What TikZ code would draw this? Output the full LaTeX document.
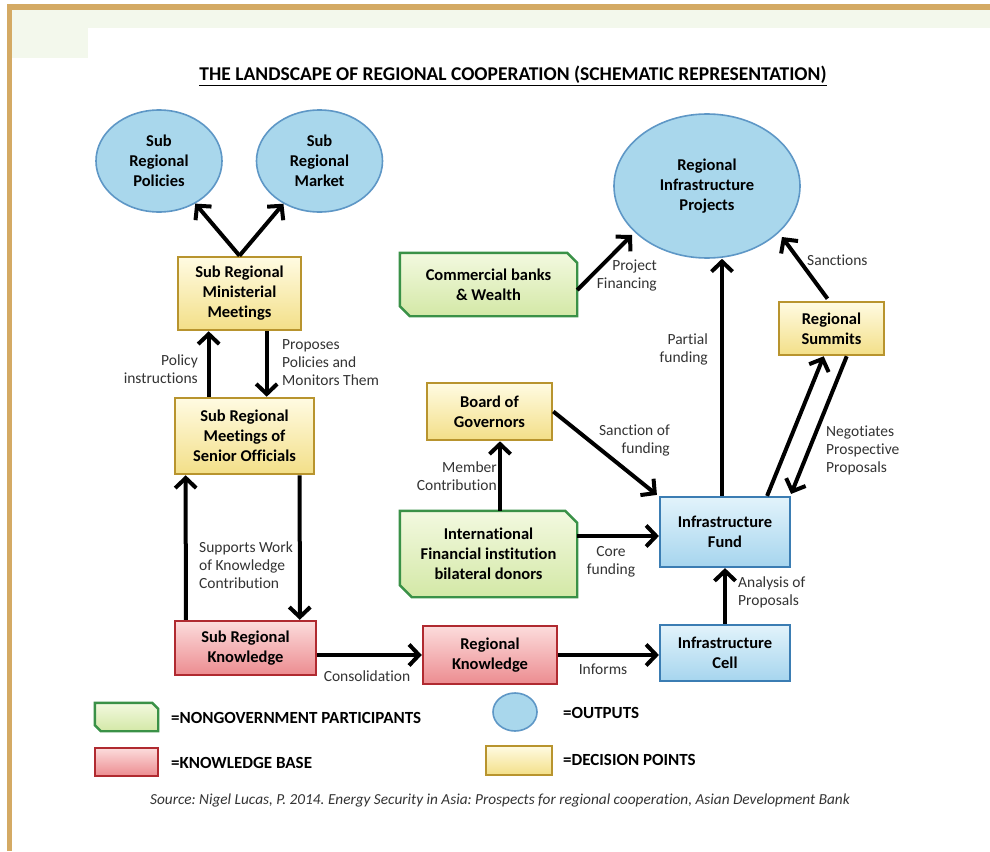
\documentclass[tikz,border=0pt]{standalone}
\usepackage{fontspec}
\setmainfont{Carlito}[Ligatures=NoCommon]
\usetikzlibrary{arrows.meta,calc,shapes.geometric}
\frenchspacing
\definecolor{frameTan}{HTML}{D4AA64}
\definecolor{tint}{HTML}{F3F8EC}
\definecolor{yBorder}{HTML}{B8942E}
\definecolor{yTop}{HTML}{FFFBE2}
\definecolor{yBot}{HTML}{F3DF88}
\definecolor{gBorder}{HTML}{3A9147}
\definecolor{gTop}{HTML}{F3F9E0}
\definecolor{gBot}{HTML}{D3E8A6}
\definecolor{bBorder}{HTML}{3B7DB3}
\definecolor{bTop}{HTML}{E2F3FB}
\definecolor{bBot}{HTML}{A6D5EE}
\definecolor{rBorder}{HTML}{B02A30}
\definecolor{rTop}{HTML}{FCDCDC}
\definecolor{rBot}{HTML}{EC8C90}
\definecolor{eFill}{HTML}{A9D7EC}
\definecolor{eBorder}{HTML}{5E97C6}
\definecolor{lblgray}{HTML}{333333}
\tikzset{
  boxtext/.style={font=\fontsize{16.5}{20}\selectfont\bfseries, align=center, inner sep=0pt, text=black},
  ybox/.style={boxtext, rectangle, draw=yBorder, line width=2.6pt, top color=yTop, bottom color=yBot},
  bbox/.style={boxtext, rectangle, draw=bBorder, line width=2.2pt, top color=bTop, bottom color=bBot},
  rbox/.style={boxtext, rectangle, draw=rBorder, line width=2.4pt, top color=rTop, bottom color=rBot},
  gbox/.style={boxtext, rectangle},
  gpath/.style={draw=gBorder, line width=2.4pt, top color=gTop, bottom color=gBot, line join=miter},
  outp/.style={boxtext, ellipse, draw=eBorder, line width=1.6pt, fill=eFill},
  arr/.style={line width=4pt, -{Straight Barb[length=10pt,width=21pt]}},
  lbl/.style={font=\fontsize{15.5}{18}\selectfont, text=lblgray, inner sep=0pt},
  legtext/.style={font=\fontsize{17}{20}\selectfont\bfseries, text=black, inner sep=0pt, anchor=west}
}
\begin{document}
\begin{tikzpicture}[x=1pt,y=-1pt]
\useasboundingbox (0,0) rectangle (990,851);
% frame
\fill[white] (0,0) rectangle (990,851);
\fill[tint] (12,10) rectangle (990,28);
\fill[tint] (12,28) rectangle (88,58);
\fill[frameTan] (7,4) rectangle (990,10);
\fill[frameTan] (7,4) rectangle (12,851);

% title
\node[font=\fontsize{19.5}{22}\selectfont\bfseries, inner sep=0pt] (title) at (513,76) {\underline{THE LANDSCAPE OF REGIONAL COOPERATION (SCHEMATIC REPRESENTATION)}};

% outputs
\node[outp, minimum width=126, minimum height=102] (pol) at (159,161) {Sub\\Regional\\Policies};
\node[outp, minimum width=126, minimum height=102] (mkt) at (319.5,161) {Sub\\Regional\\Market};
\node[outp, minimum width=186, minimum height=144] (rip) at (707,186) {Regional\\Infrastructure\\Projects};

% decision points
\node[ybox, minimum width=123, minimum height=73] (srmm) at (239.5,293.5) {Sub Regional\\Ministerial\\Meetings};
\node[ybox, minimum width=139, minimum height=76] (srso) at (244.5,436) {Sub Regional\\Meetings of\\Senior Officials};
\node[ybox, minimum width=105, minimum height=53] (rs) at (831.5,328.5) {Regional\\Summits};
\node[ybox, minimum width=125, minimum height=57] (bog) at (489.5,411.5) {Board of\\Governors};

% nongovernment participants
\node[gbox, minimum width=177, minimum height=63] (cbw) at (488.5,284.5) {};
\path[gpath] (cbw.north west) -- ($(cbw.north east)+(-10,0)$) -- ($(cbw.north east)+(0,10)$) -- (cbw.south east) -- ($(cbw.south west)+(10,0)$) -- ($(cbw.south west)+(0,-10)$) -- cycle;
\node[boxtext] (cbwt) at (cbw.center) {Commercial banks\\\& Wealth};
\node[gbox, minimum width=177, minimum height=86] (ifi) at (488.5,554) {};
\path[gpath] (ifi.north west) -- ($(ifi.north east)+(-12,0)$) -- ($(ifi.north east)+(0,12)$) -- (ifi.south east) -- ($(ifi.south west)+(12,0)$) -- ($(ifi.south west)+(0,-12)$) -- cycle;
\node[boxtext] (ifit) at (ifi.center) {International\\Financial institution\\bilateral donors};

% infrastructure
\node[bbox, minimum width=130, minimum height=70] (fund) at (725,532) {Infrastructure\\Fund};
\node[bbox, minimum width=130, minimum height=56] (cell) at (725,653) {Infrastructure\\Cell};

% knowledge
\node[rbox, minimum width=141, minimum height=54] (srk) at (245.5,648) {Sub Regional\\Knowledge};
\node[rbox, minimum width=134, minimum height=58] (rk) at (490,655) {Regional\\Knowledge};

% connectors
\draw[arr] (srmm.north) -- (pol);
\draw[arr] (srmm.north) -- (mkt);
\draw[arr] ($(srso.north west)+(35,0)$) -- ($(srmm.south west)+(32,0)$);
\draw[arr] ($(srmm.south west)+(90,0)$) -- ($(srso.north west)+(93,0)$);
\draw[arr] ($(srk.north west)+(12,0)$) -- ($(srso.south west)+(12,0)$);
\draw[arr] ($(srso.south west)+(126,0)$) -- ($(srk.north west)+(126,0)$);
\draw[arr] (srk.east |- rk.west) -- (rk.west);
\draw[arr] (rk.east) -- (rk.east -| cell.west);
\draw[arr] (cell.north) -- (fund.south);
\draw[arr] ($(fund.north)+(-3,0)$) coordinate (f9) -- (f9 |- rip.south);
\draw[arr] ($(fund.north east)+(-24,0)$) -- ($(rs.south west)+(46,0)$);
\draw[arr] ($(rs.south west)+(69,0)$) -- ($(fund.north east)+(0,-2)$);
\draw[arr] ($(rs.north)+(-4,-2)$) -- ($(rip.center)+(75,51)$);
\draw[arr] ($(cbw.east)+(0,5.5)$) -- ($(rip.center)+(-75,49)$);
\draw[arr] (bog.east) -- ($(fund.north west)+(-2,-1)$);
\draw[arr] ($(ifi.north)+(11.5,0)$) -- ($(bog.south)+(10.5,0)$);
\draw[arr] ($(ifi.east)+(0,-18)$) coordinate (a15) -- (a15 -| fund.west);

% connector labels
\node[lbl, anchor=east, align=right] (l1) at (198,369) {Policy\\instructions};
\node[lbl, anchor=west, align=left] (l2) at (282,363) {Proposes\\Policies and\\Monitors Them};
\node[lbl, anchor=west, align=left] (l3) at (199,565) {Supports Work\\of Knowledge\\Contribution};
\node[lbl] (l4) at (367,676) {Consolidation};
\node[lbl] (l5) at (603,669) {Informs};
\node[lbl, anchor=west, align=left] (l6) at (738,592) {Analysis of\\Proposals};
\node[lbl, anchor=east, align=right] (l7) at (708,349) {Partial\\funding};
\node[lbl, anchor=west, align=left] (l8) at (826,450) {Negotiates\\Prospective\\Proposals};
\node[lbl, anchor=west] (l9) at (807,260) {Sanctions};
\node[lbl, anchor=east, align=right] (l10) at (657,275) {Project\\Financing};
\node[lbl, anchor=east, align=right] (l11) at (670,440) {Sanction of\\funding};
\node[lbl, anchor=east, align=right] (l12) at (497,476) {Member\\Contribution};
\node[lbl, align=center] (l13) at (611,562) {Core\\funding};

% legend
\node[gbox, minimum width=63, minimum height=28] (lg) at (126.5,717) {};
\path[gpath] (lg.north west) -- ($(lg.north east)+(-6,0)$) -- ($(lg.north east)+(0,6)$) -- (lg.south east) -- ($(lg.south west)+(6,0)$) -- ($(lg.south west)+(0,-6)$) -- cycle;
\node[legtext] (lgt) at (171,718) {=NONGOVERNMENT PARTICIPANTS};
\node[rbox, minimum width=63, minimum height=28] (lr) at (126.5,762) {};
\node[legtext] (lrt) at (171,763) {=KNOWLEDGE BASE};
\node[outp, minimum width=44, minimum height=38] (lo) at (515,712) {};
\node[legtext] (lot) at (563,713) {=OUTPUTS};
\node[ybox, minimum width=66, minimum height=29] (ly) at (519,760.5) {};
\node[legtext] (lyt) at (563,760) {=DECISION POINTS};

% source
\node[font=\fontsize{15.3}{18}\selectfont\itshape, text=lblgray, inner sep=0pt] (src) at (500,800) {Source: Nigel Lucas, P. 2014. Energy Security in Asia: Prospects for regional cooperation, Asian Development Bank};
\end{tikzpicture}
\end{document}
